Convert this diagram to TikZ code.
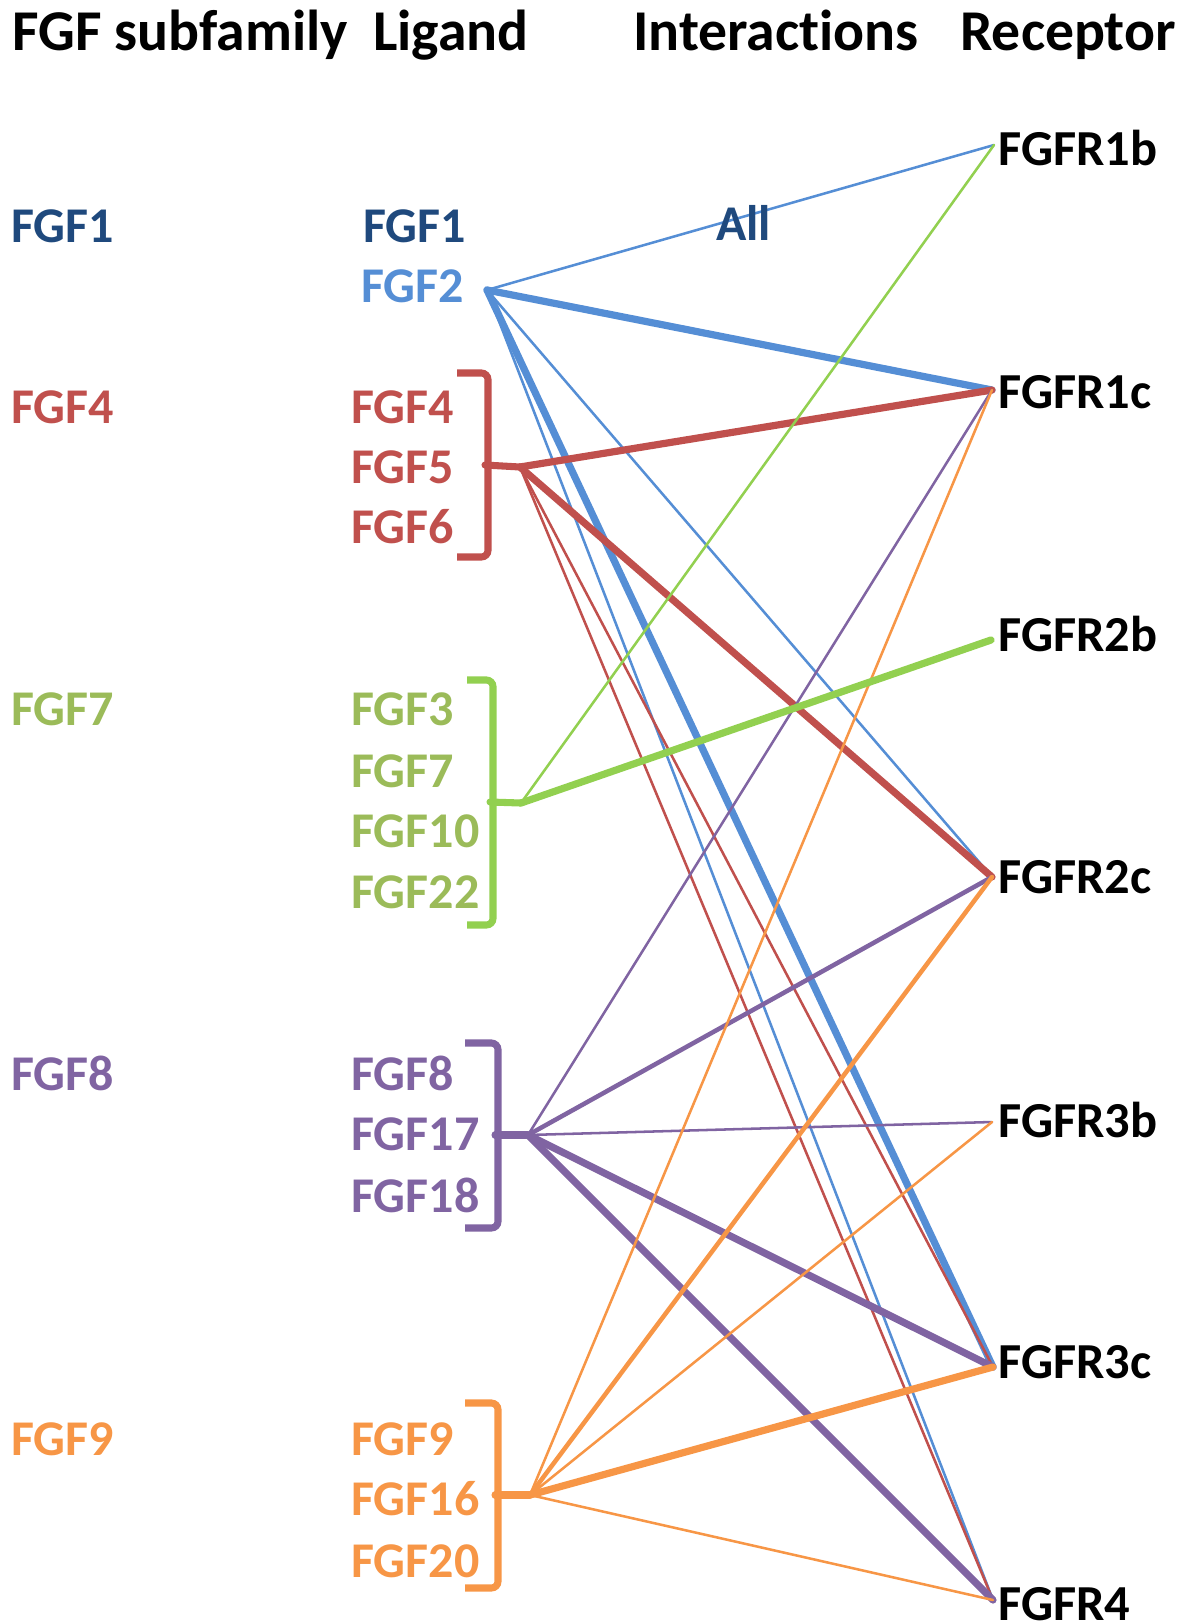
\documentclass[tikz,border=0pt]{standalone}
\usepackage{fontspec}
\setmainfont[Ligatures=NoCommon]{Carlito}
\definecolor{fgfnavy}{HTML}{1F497D}
\definecolor{fgfblue}{HTML}{558ED5}
\definecolor{fgfred}{HTML}{C0504D}
\definecolor{fgfgreentxt}{HTML}{9BBB59}
\definecolor{fgfgreen}{HTML}{92D050}
\definecolor{fgfpurple}{HTML}{8064A2}
\definecolor{fgforange}{HTML}{F79646}
\begin{document}
\begin{tikzpicture}[x=0.75pt,y=-0.75pt,
  lbl/.style={anchor=base west,inner sep=0pt,font=\fontsize{37.5}{38}\selectfont\bfseries},
  rec/.style={anchor=base west,inner sep=0pt,font=\fontsize{37.8}{38}\selectfont\bfseries},
  hdr/.style={anchor=base west,inner sep=0pt,font=\fontsize{43.3}{44}\selectfont\bfseries},
  lnthin/.style={line width=1.9pt,line cap=round},
  lnmed/.style={line width=3.4pt,line cap=round},
  lnthick/.style={line width=5.4pt,line cap=round},
  brk/.style={line width=5.3pt,rounded corners=5pt},
  stub/.style={line width=5.3pt,line cap=round}]
\useasboundingbox (0,0) rectangle (1198,1622);
\clip (0,0) rectangle (1198,1622);

% column headings
\node[hdr] (hsub) at (12,50) {FGF subfamily};
\node[hdr] (hlig) at (373,50) {Ligand};
\node[hdr] (hint) at (633,50) {Interactions};
\node[hdr] (hrec) at (960,50) {Receptor};

% subfamilies
\node[lbl,text=fgfnavy]     (sf1) at (11,242) {FGF1};
\node[lbl,text=fgfred]      (sf4) at (11,423) {FGF4};
\node[lbl,text=fgfgreentxt] (sf7) at (11,725) {FGF7};
\node[lbl,text=fgfpurple]   (sf8) at (11,1090) {FGF8};
\node[lbl,text=fgforange]   (sf9) at (11,1455) {FGF9};

% ligands
\node[lbl,text=fgfnavy] (l1) at (363,242) {FGF1};
\node[lbl,text=fgfblue] (l2) at (361,302) {FGF2};
\node[lbl,text=fgfred] (l4) at (351,423) {FGF4};
\node[lbl,text=fgfred] (l5) at (351,483) {FGF5};
\node[lbl,text=fgfred] (l6) at (351,543) {FGF6};
\node[lbl,text=fgfgreentxt] (l3)  at (351,725) {FGF3};
\node[lbl,text=fgfgreentxt] (l7)  at (351,787) {FGF7};
\node[lbl,text=fgfgreentxt] (l10) at (351,847) {FGF10};
\node[lbl,text=fgfgreentxt] (l22) at (351,908) {FGF22};
\node[lbl,text=fgfpurple] (l8)  at (351,1090) {FGF8};
\node[lbl,text=fgfpurple] (l17) at (351,1150) {FGF17};
\node[lbl,text=fgfpurple] (l18) at (351,1212) {FGF18};
\node[lbl,text=fgforange] (l9)  at (351,1455) {FGF9};
\node[lbl,text=fgforange] (l16) at (351,1515) {FGF16};
\node[lbl,text=fgforange] (l20) at (351,1577) {FGF20};

% receptors
\node[rec] (r1b) at (998,165) {FGFR1b};
\node[rec] (r1c) at (998,408) {FGFR1c};
\node[rec] (r2b) at (998,651) {FGFR2b};
\node[rec] (r2c) at (998,893) {FGFR2c};
\node[rec] (r3b) at (998,1137) {FGFR3b};
\node[rec] (r3c) at (998,1378) {FGFR3c};
\node[rec] (r4)  at (998,1620) {FGFR4};

% connector hubs and receptor docking points
\coordinate (hB) at (487,290);
\coordinate (hR) at (520,467);
\coordinate (hG) at (521,803);
\coordinate (hP) at (528,1135);
\coordinate (hO) at (530,1495);
\coordinate (p1b) at (994,145);
\coordinate (p1c) at (992,390);
\coordinate (p2b) at (991,640);
\coordinate (p2c) at (992,877);
\coordinate (p3b) at (992,1122);
\coordinate (p3c) at (993,1367);
\coordinate (p4)  at (993,1600);

% group brackets
\draw[brk,fgfred] (457,373) -- (488,373) -- (488,557) -- (457,557);
\draw[stub,fgfred] (485,465) -- (hR);
\draw[brk,fgfgreen] (467,680) -- (493,680) -- (493,925) -- (467,925);
\draw[stub,fgfgreen] (490,802) -- (hG);
\draw[brk,fgfpurple] (465,1043) -- (498,1043) -- (498,1228) -- (465,1228);
\draw[stub,fgfpurple] (495,1135) -- (hP);
\draw[brk,fgforange] (465,1403) -- (498,1403) -- (498,1588) -- (465,1588);
\draw[stub,fgforange] (495,1495) -- (hO);

% FGF1/FGF2 interactions
\draw[lnthin,fgfblue]  (hB) -- (p1b);
\draw[lnthick,fgfblue] (hB) -- (p1c);
\draw[lnthin,fgfblue]  (hB) -- (p2c);
\draw[lnthick,fgfblue] (hB) -- (p3c);
\draw[lnthin,fgfblue]  (hB) -- (p4);

% FGF4 subfamily
\draw[lnthick,fgfred] (hR) -- (p1c);
\draw[lnthick,fgfred] (hR) -- (p2c);
\draw[lnthin,fgfred]  (hR) -- (p3c);
\draw[lnthin,fgfred]  (hR) -- (p4);

% FGF8 subfamily
\draw[lnthin,fgfpurple]  (hP) -- (p1c);
\draw[lnmed,fgfpurple]   (hP) -- (p2c);
\draw[lnthin,fgfpurple]  (hP) -- (p3b);
\draw[lnthick,fgfpurple] (hP) -- (p3c);
\draw[lnthick,fgfpurple] (hP) -- (p4);

% FGF9 subfamily
\draw[lnthin,fgforange]  (hO) -- (p1c);
\draw[lnmed,fgforange]   (hO) -- (p2c);
\draw[lnthin,fgforange]  (hO) -- (p3b);
\draw[lnthick,fgforange] (hO) -- (p3c);
\draw[lnthin,fgforange]  (hO) -- (p4);

% FGF7 subfamily
\draw[lnthin,fgfgreen]  (hG) -- (p1b);
\draw[lnthick,fgfgreen] (hG) -- (p2b);

% label for the FGF1 row
\node[lbl,text=fgfnavy] (all) at (716,240) {All};
\end{tikzpicture}
\end{document}
